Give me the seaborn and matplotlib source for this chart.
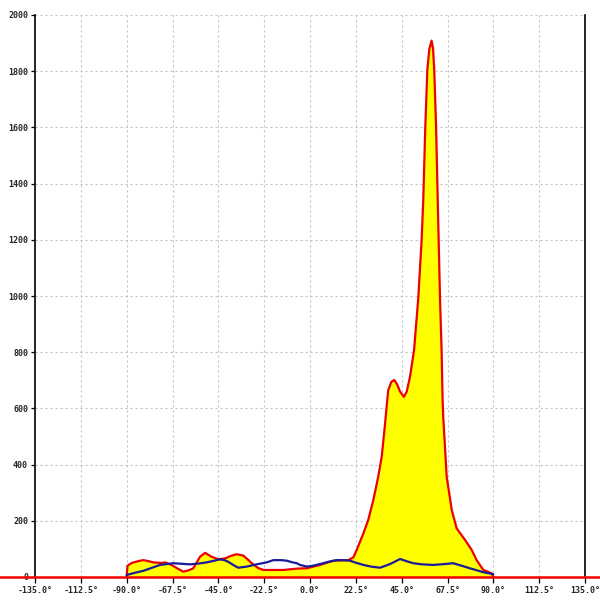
import matplotlib
matplotlib.use("Agg")
import matplotlib.pyplot as plt
import seaborn as sns

# angle (deg) / counts
red_x = [-90.0, -89.6, -87.5, -84.0, -81.8, -79.0, -76.9, -73.0, -71.0, -68.0, -65.0,
         -62.2, -59.5, -57.3, -54.0, -51.5, -48.3, -45.0, -41.7, -38.5, -36.0,
         -32.7, -30.5, -28.6, -25.5, -22.9, -13.1, -6.0, -1.6, 4.9, 11.4,
         18.8, 21.3, 22.9, 26.2, 28.6, 31.1, 33.5, 35.2, 36.5, 38.4,
         40.0, 41.4, 42.8, 44.2, 46.1, 47.5, 49.1, 51.1, 53.2, 54.8,
         55.6, 56.6, 57.6, 58.6, 59.7, 60.4, 61.0, 61.9, 62.7, 63.8,
         64.6, 65.1, 65.4, 67.1, 69.6, 72.0, 76.1, 79.4, 81.8, 85.1,
         89.2, 90.0]
red_y = [0, 40, 50, 57, 60, 56, 52, 50, 52, 43, 30,
         19, 24, 31, 72, 86, 72, 63, 66, 76, 81,
         76, 62, 49, 32, 25, 25, 30, 31, 43, 58,
         60, 70, 96, 155, 203, 274, 357, 428, 520, 665,
         695, 701, 685, 660, 641, 660, 713, 808, 997, 1199,
         1342, 1602, 1804, 1880, 1909, 1880, 1804, 1602, 1342, 997,
         808, 630, 570, 357, 238, 173, 132, 96, 60, 25,
         13, 0]

blue_x = [-90.0, -86.0, -81.8, -77.5, -73.6, -67.1, -63.0, -58.9, -54.5, -50.7,
          -47.0, -44.2, -42.0, -40.1, -37.5, -35.2, -31.1, -26.2, -21.3, -18.0,
          -14.0, -11.4, -8.5, -6.5, -4.9, -1.6, 1.5, 4.9, 9.0, 13.1,
          16.5, 19.6, 22.9, 26.2, 30.0, 34.4, 39.3, 44.2, 47.5, 50.7,
          55.0, 60.5, 66.0, 70.3, 74.5, 78.5, 85.1, 90.0]
blue_y = [7, 15, 22, 33, 43, 49, 47, 45, 48, 52,
          58, 63, 60, 54, 42, 33, 37, 45, 52, 60,
          60, 58, 52, 49, 43, 37, 40, 46, 54, 60,
          60, 58, 50, 43, 37, 33, 46, 64, 56, 49,
          45, 43, 46, 49, 40, 31, 17, 10]

x_ticks = [-135.0, -112.5, -90.0, -67.5, -45.0, -22.5, 0.0, 22.5, 45.0, 67.5, 90.0, 112.5, 135.0]
y_ticks = [0, 200, 400, 600, 800, 1000, 1200, 1400, 1600, 1800, 2000]

sns.set_style("white")
plt.rcParams['font.family'] = ['DejaVu Sans Mono', 'DejaVu Sans']

fig = plt.figure(figsize=(6, 6), dpi=100)
ax = fig.add_axes([35 / 600, 23 / 600, 550 / 600, 562 / 600])

# dashed grid
for xt in x_ticks[1:-1]:
    ax.axvline(xt, color="#c4c4c4", lw=0.8, ls=(0, (2, 2.5)), zorder=0)
for yt in y_ticks[1:]:
    ax.axhline(yt, color="#c4c4c4", lw=0.8, ls=(0, (2, 2.5)), zorder=0)

ax.fill_between(red_x, red_y, 0, color="#ffff00", lw=0, zorder=1)
sns.lineplot(x=red_x, y=red_y, sort=False, color="#ee0000", lw=1.6, ax=ax, zorder=2)
sns.lineplot(x=blue_x, y=blue_y, sort=False, color="#1a1a9a", lw=1.6, ax=ax, zorder=3)

# zero baseline running past the frame on both sides
ax.plot([-152.5, 142.5], [0, 0], color="#ee0000", lw=1.8, clip_on=False, zorder=4)

ax.set_xlim(-135, 135)
ax.set_ylim(0, 2000)
ax.set_xticks(x_ticks)
ax.set_xticklabels([f"{v:.1f}°" for v in x_ticks])
ax.set_yticks(y_ticks)
ax.set_yticklabels([str(v) for v in y_ticks])
ax.tick_params(axis="x", direction="out", length=4.5, width=0.9, color="black",
               pad=2, labelsize=6, bottom=True)
ax.tick_params(axis="y", direction="out", length=3, width=0.9, color="black",
               pad=2, labelsize=6, left=True)
for lab in ax.get_xticklabels() + ax.get_yticklabels():
    lab.set_fontweight("bold")

ax.spines["top"].set_visible(False)
ax.spines["bottom"].set_visible(False)
for side in ["left", "right"]:
    ax.spines[side].set_color("black")
    ax.spines[side].set_linewidth(1.2)
ax.set_xlabel("")
ax.set_ylabel("")

fig.savefig("out.png", dpi=100)
